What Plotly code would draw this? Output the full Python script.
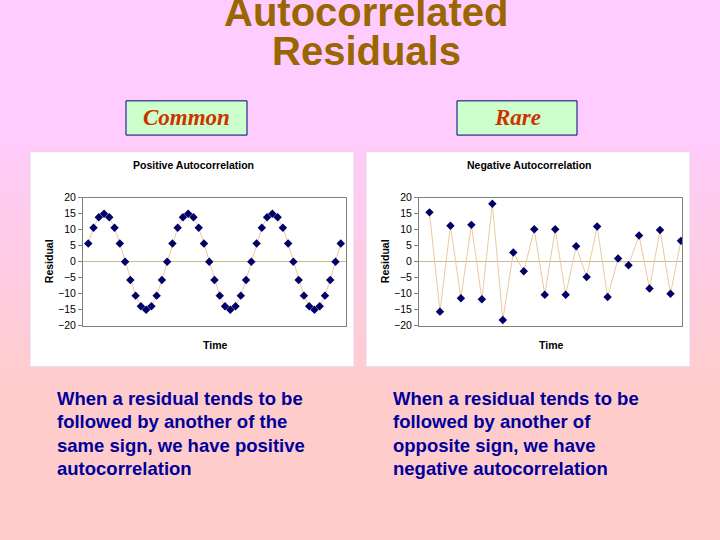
import plotly.graph_objects as go

# data
pos_time = list(range(1, 50))
pos_residual = [5.7, 10.6, 13.9, 15, 13.9, 10.6, 5.7, 0, -5.7, -10.6, -13.9, -15, -13.9, -10.6, -5.7, 0,
                5.7, 10.6, 13.9, 15, 13.9, 10.6, 5.7, 0, -5.7, -10.6, -13.9, -15, -13.9, -10.6, -5.7, 0,
                5.7, 10.6, 13.9, 15, 13.9, 10.6, 5.7, 0, -5.7, -10.6, -13.9, -15, -13.9, -10.6, -5.7, 0,
                5.7]
neg_time = list(range(1, 26))
neg_residual = [15.4, -15.6, 11.2, -11.4, 11.5, -11.7, 18.1, -18.2, 2.9, -3.0, 10.1, -10.3, 10.1,
                -10.3, 4.8, -4.8, 11.0, -11.0, 1.0, -1.1, 8.2, -8.4, 9.9, -10.0, 6.5]
y_ticks = [-20, -15, -10, -5, 0, 5, 10, 15, 20]

title_lines = ["Autocorrelated", "Residuals"]
box_labels = ["Common", "Rare"]
chart_titles = ["Positive Autocorrelation", "Negative Autocorrelation"]
left_text = ["When a residual tends to be", "followed by another of the",
             "same sign, we have positive", "autocorrelation"]
right_text = ["When a residual tends to be", "followed by another of",
              "opposite sign, we have", "negative autocorrelation"]

W, H = 720, 540


def fx(px):
    return px / W


def fy(py):
    return 1 - py / H


fig = go.Figure()

marker = dict(symbol="diamond", size=6.5, color="#000066")
line = dict(color="#EBC9A0", width=1)
fig.add_trace(go.Scatter(x=pos_time, y=pos_residual, mode="lines+markers",
                         marker=marker, line=line, xaxis="x", yaxis="y"))
fig.add_trace(go.Scatter(x=neg_time, y=neg_residual, mode="lines+markers",
                         marker=marker, line=line, xaxis="x2", yaxis="y2"))

shapes = []
# background gradient, pink-violet to pink
top_c, bot_c = (255, 204, 255), (255, 204, 204)
g0, g1, n = 120, 390, 54
shapes.append(dict(type="rect", xref="paper", yref="paper", x0=0, x1=1, y0=fy(g0), y1=1.02,
                   fillcolor="rgb(%d,%d,%d)" % top_c, line_width=0, layer="below"))
for i in range(n):
    t = (i + 0.5) / n
    c = tuple(round(top_c[j] + (bot_c[j] - top_c[j]) * t) for j in range(3))
    a = g0 + (g1 - g0) * i / n
    b = g0 + (g1 - g0) * (i + 1) / n + 0.5
    shapes.append(dict(type="rect", xref="paper", yref="paper", x0=0, x1=1, y0=fy(b), y1=fy(a),
                       fillcolor="rgb(%d,%d,%d)" % c, line_width=0, layer="below"))
shapes.append(dict(type="rect", xref="paper", yref="paper", x0=0, x1=1, y0=-0.02, y1=fy(g1),
                   fillcolor="rgb(%d,%d,%d)" % bot_c, line_width=0, layer="below"))

# white chart panels
for x0 in (30, 366):
    shapes.append(dict(type="rect", xref="paper", yref="paper", x0=fx(x0), x1=fx(x0 + 324),
                       y0=fy(369), y1=fy(149), fillcolor="white",
                       line=dict(color="#E8D0E8", width=1), layer="below"))

# label boxes
for x0, x1 in ((126, 247), (457, 577)):
    shapes.append(dict(type="rect", xref="paper", yref="paper", x0=fx(x0), x1=fx(x1),
                       y0=fy(132), y1=fy(97), fillcolor="#CCFFCC",
                       line=dict(color="#000080", width=1)))

ann = []
for txt, base in zip(title_lines, (20, 60)):
    ann.append(dict(text="<b>%s</b>" % txt, x=fx(366), y=fy(base - 13.5), xref="paper", yref="paper",
                    showarrow=False, xanchor="center", yanchor="middle",
                    font=dict(family="Liberation Sans", size=40, color="#996600")))
for txt, cx in zip(box_labels, (186, 517)):
    ann.append(dict(text="<b><i>%s</i></b>" % txt, x=fx(cx), y=fy(114), xref="paper", yref="paper",
                    showarrow=False, xanchor="center", yanchor="middle",
                    font=dict(family="Liberation Serif", size=23, color="#CC3300")))
for txt, cx in zip(chart_titles, (193, 529)):
    ann.append(dict(text="<b>%s</b>" % txt, x=fx(cx), y=fy(163), xref="paper", yref="paper",
                    showarrow=False, xanchor="center", yanchor="middle",
                    font=dict(family="Liberation Sans", size=10.5, color="black")))
for cx, tx in ((48.5, 214.5), (384.5, 550.5)):
    ann.append(dict(text="<b>Residual</b>", x=fx(cx), y=fy(261.5), xref="paper", yref="paper",
                    showarrow=False, xanchor="center", yanchor="middle", textangle=-90,
                    font=dict(family="Liberation Sans", size=10.5, color="black")))
    ann.append(dict(text="<b>Time</b>", x=fx(tx), y=fy(346.5), xref="paper", yref="paper",
                    showarrow=False, xanchor="center", yanchor="middle",
                    font=dict(family="Liberation Sans", size=10.5, color="black")))
for lines, x0 in ((left_text, 55), (right_text, 391)):
    for i, txt in enumerate(lines):
        ann.append(dict(text="<b>%s</b>" % txt, x=fx(x0), y=fy(407.5 + 24 * i - 6.5),
                        xref="paper", yref="paper", showarrow=False,
                        xanchor="left", yanchor="middle",
                        font=dict(family="Liberation Sans", size=18.5, color="#000099")))

xax = dict(showticklabels=False, ticks="", showgrid=False, zeroline=False,
           showline=True, mirror=True, linecolor="#808080", linewidth=1, fixedrange=True)
yax = dict(range=[-20, 20], tickvals=y_ticks, ticks="outside", ticklen=4, tickcolor="#808080",
           showgrid=False, zeroline=True, zerolinecolor="#C8BA8C", zerolinewidth=1,
           showline=True, mirror=True, linecolor="#808080", linewidth=1,
           tickfont=dict(family="Liberation Sans", size=10.5, color="black"))

fig.update_layout(
    width=W, height=H, margin=dict(l=0, r=0, t=0, b=0),
    paper_bgcolor="#FFCCCC", plot_bgcolor="#FFFFCC", showlegend=False,
    xaxis=dict(xax, domain=[fx(83), fx(346)], range=[0, 50], anchor="y"),
    yaxis=dict(yax, domain=[fy(327), fy(196)], anchor="x"),
    xaxis2=dict(xax, domain=[fx(419), fx(682)], range=[0, 25.1], anchor="y2"),
    yaxis2=dict(yax, domain=[fy(327), fy(196)], anchor="x2"),
    shapes=shapes, annotations=ann,
)

# page body has an 8px default margin; drop it so the figure sits at the window corner
fig.write_html("out.html", config={"displayModeBar": False},
               post_script="document.body.style.margin='0';"
                           "document.body.style.background='#FFCCCC';"
                           "document.body.style.overflow='hidden';"
                           "document.documentElement.style.overflow='hidden';")
